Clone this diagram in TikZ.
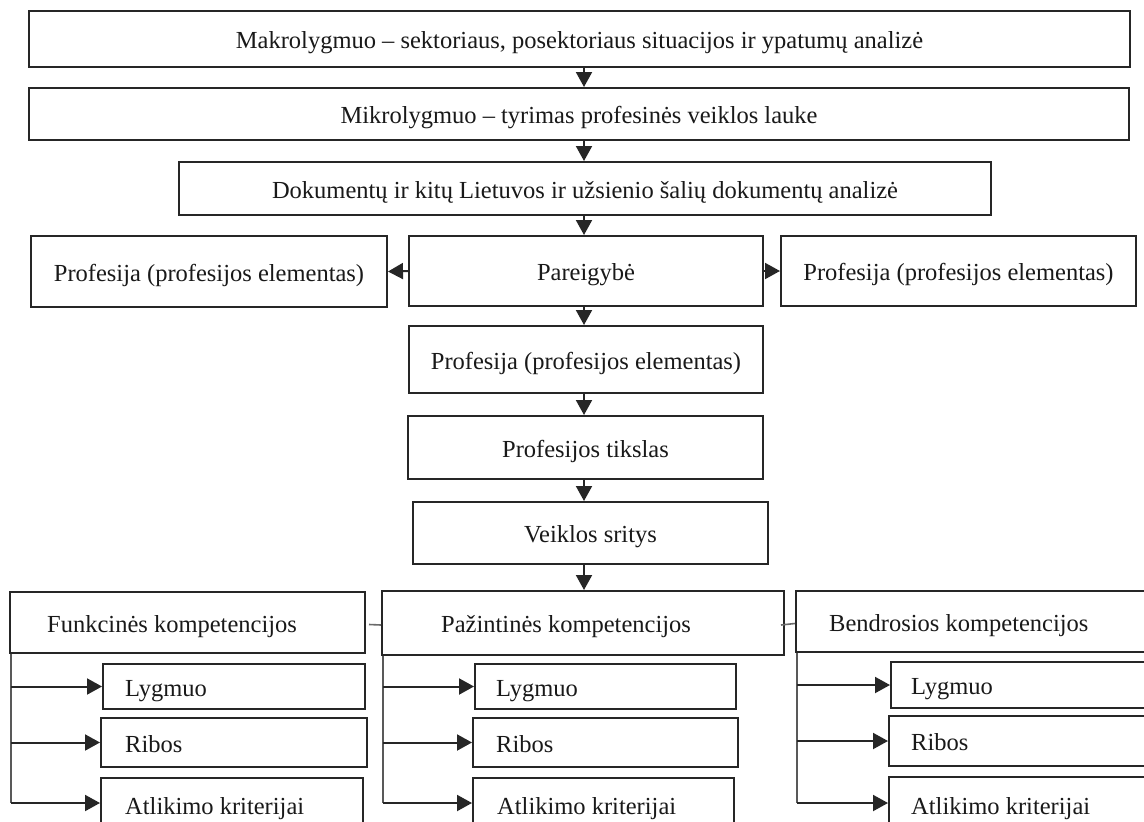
\documentclass[tikz,border=0pt]{standalone}
\usepackage{fontspec}
\setmainfont{Liberation Serif}
\usetikzlibrary{arrows.meta,calc}

\definecolor{boxline}{HTML}{262626}
\definecolor{linkgray}{HTML}{6A6A6A}
\newcommand\fsize{\fontsize{24.5}{29}\selectfont}

\tikzset{
  box/.style={draw=boxline, line width=2pt, inner sep=0pt, font=\fsize,
              text height=19pt, text depth=0pt, text=black!90},
  lbl/.style={anchor=west, inner sep=0pt, font=\fsize, text height=19pt,
              text depth=0pt, text=black!90},
  conn/.style={draw=boxline, line width=2pt},
  arr/.style={conn, -{Triangle[width=16pt,length=15pt]}},
  trunk/.style={draw=black!65, line width=2pt},
  link/.style={draw=linkgray, line width=1.6pt},
}

% box from corner (#2,#3) to corner (#4,#5), named #1, centred text #6
\newcommand\mkbox[6]{%
  \node[box, minimum width={#4-#2}, minimum height={#5-#3}] (#1)
    at ({(#2+#4)/2},{(#3+#5)/2}) {#6};}
% same box, text set flush left at distance #6 from the left side
\newcommand\mkboxl[7]{%
  \mkbox{#1}{#2}{#3}{#4}{#5}{}%
  \node[lbl] (#1-t) at ($(#1.west)+(#6,0)$) {#7};}

\begin{document}
\begin{tikzpicture}[x=1pt,y=-1pt]
\useasboundingbox (0,0) rectangle (1144,822);
\fill[white] (0,0) rectangle (1144,822);
\clip (0,0) rectangle (1144,822);

% main chain
\mkbox{mak}{29}{11}{1130}{67}{Makrolygmuo – sektoriaus, posektoriaus situacijos ir ypatumų analizė}
\mkbox{mik}{29}{88}{1129}{140}{Mikrolygmuo – tyrimas profesinės veiklos lauke}
\mkbox{dok}{179}{162}{991}{215}{Dokumentų ir kitų Lietuvos ir užsienio šalių dokumentų analizė}
\mkbox{profl}{31}{236}{387}{307}{Profesija (profesijos elementas)}
\mkbox{par}{409}{236}{763}{306}{Pareigybė}
\mkbox{profr}{781}{236}{1136}{306}{Profesija (profesijos elementas)}
\mkbox{prof}{409}{326}{763}{393}{Profesija (profesijos elementas)}
\mkbox{tik}{408}{416}{763}{479}{Profesijos tikslas}
\mkbox{veik}{413}{502}{768}{564}{Veiklos sritys}

% competence groups
\mkboxl{fun}{10}{592}{365}{653}{38}{Funkcinės kompetencijos}
\mkboxl{paz}{382}{591}{784}{655}{60}{Pažintinės kompetencijos}
\mkboxl{ben}{796}{591}{1160}{652}{34}{Bendrosios kompetencijos}

\mkboxl{funl}{103}{664}{365}{709}{23}{Lygmuo}
\mkboxl{funr}{101}{718}{367}{767}{25}{Ribos}
\mkboxl{funa}{101}{778}{363}{832}{25}{Atlikimo kriterijai}

\mkboxl{pazl}{475}{664}{736}{709}{22}{Lygmuo}
\mkboxl{pazr}{473}{718}{738}{767}{24}{Ribos}
\mkboxl{paza}{473}{778}{734}{832}{25}{Atlikimo kriterijai}

\mkboxl{benl}{891}{662}{1160}{708}{21}{Lygmuo}
\mkboxl{benr}{889}{716}{1160}{766}{23}{Ribos}
\mkboxl{bena}{889}{777}{1160}{832}{23}{Atlikimo kriterijai}

% vertical flow
\coordinate (spine) at (584,0);
\draw[arr] (mak.south -| spine) -- (mik.north -| spine);
\draw[arr] (mik.south -| spine) -- (dok.north -| spine);
\draw[arr] (dok.south -| spine) -- (par.north -| spine);
\draw[arr] (par.west) -- (profl.east);
\draw[arr] (par.east) -- (profr.west);
\draw[arr] (par.south -| spine) -- (prof.north -| spine);
\draw[arr] (prof.south -| spine) -- (tik.north -| spine);
\draw[arr] (tik.south -| spine) -- (veik.north -| spine);
\draw[arr] (veik.south -| spine) -- (paz.north -| spine);

% links between the competence groups
\draw[link] ($(fun.east)+(3,2)$) -- ($(paz.west)+(0,2)$);
\draw[link] ($(paz.east)+(-4,2)$) -- ($(ben.west)+(0,2)$);

% branches to level, scope and criteria
\foreach \g in {fun,paz,ben}{
  \coordinate (\g-top) at ($(\g.south west)+(2,0)$);
  \coordinate (\g-end) at (\g-top |- 0,803);
  \draw[trunk] (\g-top) -- (\g-end);
  \draw[arr] (\g-top |- \g l.west) -- (\g l.west);
  \draw[arr] (\g-top |- \g r.west) -- (\g r.west);
  \draw[arr] (\g-end) -- (\g a.west |- \g-end);
}
\end{tikzpicture}
\end{document}
